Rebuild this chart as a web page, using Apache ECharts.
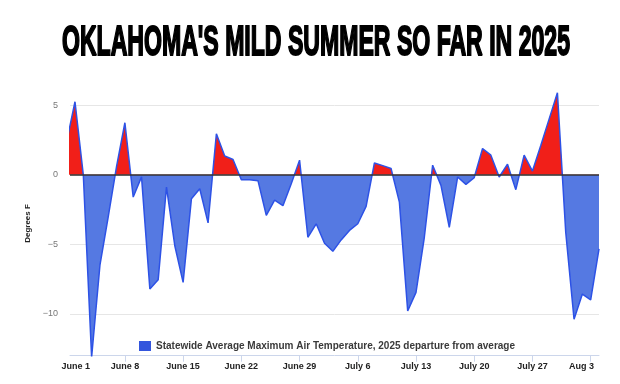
<!DOCTYPE html>
<html>
<head>
<meta charset="utf-8">
<script src="https://cdn.jsdelivr.net/npm/echarts@6/dist/echarts.min.js"></script>
<style>
html,body{margin:0;padding:0;background:#fff;}
#chart{width:620px;height:384px;}
</style>
</head>
<body>
<div id="chart"></div>
<script>
// ---- data ----
const titleText = "OKLAHOMA'S MILD SUMMER SO FAR IN 2025";
const seriesName = 'Statewide Average Maximum Air Temperature, 2025 departure from average';
const yAxisName = 'Degrees F';
const startDate = '2025-06-01';
// daily departures from average (°F), starting June 1, 2025
const departures = [
  2.4, 5.25, 0.0, -13.1, -6.5, -3.0, 0.6, 3.74, -1.6, -0.15,
  -8.2, -7.55, -0.88, -5.1, -7.73, -1.72, -1.0, -3.46, 2.95, 1.35,
  1.1, -0.35, -0.35, -0.42, -2.92, -1.82, -2.22, -0.64, 1.05, -4.49,
  -3.52, -4.92, -5.5, -4.68, -4.0, -3.52, -2.27, 0.85, 0.66, 0.45,
  -1.96, -9.78, -8.45, -4.49, 0.69, -0.76, -3.77, -0.16, -0.69, -0.2,
  1.89, 1.41, -0.16, 0.76, -1.07, 1.41, 0.27, 2.1, 4.0, 5.9,
  -4.12, -10.38, -8.57, -8.98, -5.33
];
const tickLabels = ['June 1','June 8','June 15','June 22','June 29','July 6','July 13','July 20','July 27','Aug 3'];
const tickDays = [0, 7, 14, 21, 28, 35, 42, 49, 56, 63];
const yTicks = [-10, -5, 0, 5];

// ---- build ----
const seriesData = departures.map((v, i) => [i, v]);
const xMin = 0.4, xMax = departures.length - 1;
const yMin = -13, yMax = 6;
const labelPos = tickDays.map((d, i) => i === 0 ? d + 1.1 : (i === tickDays.length - 1 ? d - 1.1 : d));
const RED = '#f11f19', BLUE_FILL = '#5579e2', BLUE_LINE = '#2d52e6';

// title horizontal compression to mimic a condensed heavy face
const titleFont = 'bold 42px "Liberation Sans"';
const mctx = document.createElement('canvas').getContext('2d');
mctx.font = titleFont;
const titleScale = 508 / mctx.measureText(titleText).width;

const chart = echarts.init(document.getElementById('chart'), null, {renderer: 'canvas'});
const option = {
  animation: false,
  backgroundColor: '#ffffff',
  graphic: [{
    type: 'text',
    x: 316, y: 43,
    scaleX: titleScale,
    style: {
      text: titleText,
      font: titleFont,
      fill: '#000', stroke: '#000', lineWidth: 2,
      align: 'center', verticalAlign: 'middle'
    }
  }],
  grid: {left: 70, right: 21, top: 91.3, bottom: 28.3},
  legend: {
    show: true,
    left: 134, top: 336,
    itemWidth: 12, itemHeight: 10,
    data: [{name: seriesName, icon: 'rect', itemStyle: {color: '#3355dd'}}],
    textStyle: {fontSize: 10, fontWeight: 'bold', color: '#3a3a3a', fontFamily: 'Liberation Sans'}
  },
  xAxis: {
    type: 'value', min: xMin, max: xMax,
    axisLine: {show: true, onZero: false, lineStyle: {color: '#ccd6eb'}},
    axisTick: {show: true, length: 6, customValues: tickDays, lineStyle: {color: '#ccd6eb'}},
    splitLine: {show: false},
    axisLabel: {
      customValues: labelPos, margin: 6,
      fontFamily: 'Liberation Sans', fontSize: 9, fontWeight: 'bold', color: '#222',
      formatter: v => {
        let best = 0;
        tickDays.forEach((d, i) => { if (Math.abs(d - v) < Math.abs(tickDays[best] - v)) best = i; });
        return tickLabels[best];
      }
    }
  },
  yAxis: {
    type: 'value', min: yMin, max: yMax,
    name: yAxisName, nameLocation: 'middle', nameRotate: 90, nameGap: 36,
    nameTextStyle: {fontSize: 8, fontWeight: 'bold', color: '#222', fontFamily: 'Liberation Sans'},
    axisLine: {show: false},
    axisTick: {show: false, customValues: yTicks},
    splitLine: {show: true, lineStyle: {color: '#e6e6e6', width: 1}},
    axisLabel: {
      customValues: yTicks, margin: 12,
      fontSize: 9, color: '#777', fontFamily: 'Liberation Sans',
      formatter: v => String(v).replace('-', '\u2212')
    }
  },
  series: [{
    name: seriesName,
    type: 'line',
    data: seriesData,
    showSymbol: false, symbol: 'none',
    lineStyle: {color: BLUE_LINE, width: 1.5},
    areaStyle: {opacity: 1, color: BLUE_FILL},
    markLine: {
      silent: true, symbol: 'none', label: {show: false},
      lineStyle: {color: '#333', width: 1.5, type: 'solid'},
      data: [{yAxis: 0}]
    }
  }]
};
chart.setOption(option);

// split the area fill at the zero threshold with a global-coordinate gradient
const yTop = chart.convertToPixel({yAxisIndex: 0}, yMax);
const yBot = chart.convertToPixel({yAxisIndex: 0}, yMin);
const yZero = chart.convertToPixel({yAxisIndex: 0}, 0);
const t = (yZero - yTop) / (yBot - yTop);
chart.setOption({
  series: [{
    areaStyle: {
      opacity: 1,
      color: new echarts.graphic.LinearGradient(0, yTop, 0, yBot, [
        {offset: 0, color: RED}, {offset: t, color: RED},
        {offset: t, color: BLUE_FILL}, {offset: 1, color: BLUE_FILL}
      ], true)
    }
  }]
});
</script>
</body>
</html>
